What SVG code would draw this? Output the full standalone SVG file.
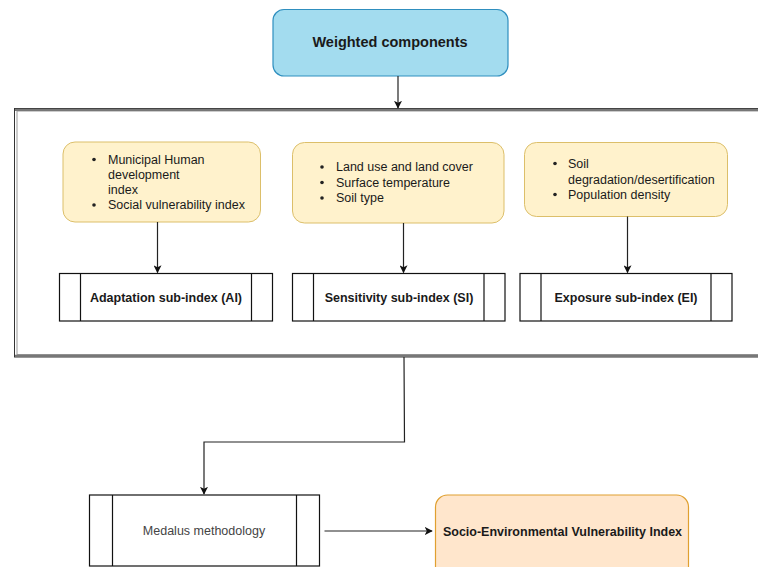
<svg xmlns="http://www.w3.org/2000/svg" width="758" height="567" viewBox="0 0 758 567">
<defs>
<style>
text{font-family:"Liberation Sans",Arial,sans-serif;font-size:12.5px;fill:#1a1a1a}
.b{font-weight:bold}
.c{text-anchor:middle}
.note{fill:#fff2cc;stroke:#dcbf6a;stroke-width:1}
.proc{fill:#fff;stroke:#111;stroke-width:1.2}
.edge{fill:none;stroke:#222;stroke-width:1.2}
.dot{fill:#222}
</style>
<marker id="ah" viewBox="0 0 10 10" refX="9" refY="5" markerWidth="8" markerHeight="8" markerUnits="userSpaceOnUse" orient="auto">
<path d="M0,0 L10,5 L0,10 L2.5,5 z" fill="#111"/>
</marker>
</defs>
<rect width="758" height="567" fill="#fff"/>

<g id="frame">
<rect x="14.5" y="108.5" width="760" height="248.5" fill="#fff" stroke="#333" stroke-width="1"/>
<rect x="17" y="111" width="760" height="243.5" fill="none" stroke="#999" stroke-width="1"/>
<line x1="15" y1="109.8" x2="758" y2="109.8" stroke="#777" stroke-width="2.2"/>
<line x1="15" y1="355.8" x2="758" y2="355.8" stroke="#777" stroke-width="2.2"/>
</g>

<g id="weighted">
<rect x="273" y="9.5" width="235" height="66.5" rx="11" fill="#a3dcef" stroke="#2f8fbf" stroke-width="1.2"/>
<text class="b c" x="390" y="47" style="font-size:14.5px">Weighted components</text>
</g>

<g id="note-adaptation">
<rect class="note" x="63" y="142" width="197.5" height="80" rx="12"/>
<circle class="dot" cx="94" cy="159.5" r="1.8"/>
<circle class="dot" cx="94" cy="205" r="1.8"/>
<text x="108" y="163.5">Municipal Human</text>
<text x="108" y="178.5">development</text>
<text x="108" y="193.5">index</text>
<text x="108" y="209">Social vulnerability index</text>
</g>

<g id="note-sensitivity">
<rect class="note" x="292.5" y="142.5" width="211.5" height="80.5" rx="12"/>
<circle class="dot" cx="322" cy="167" r="1.8"/>
<circle class="dot" cx="322" cy="182.5" r="1.8"/>
<circle class="dot" cx="322" cy="198" r="1.8"/>
<text x="336" y="171">Land use and land cover</text>
<text x="336" y="186.5">Surface temperature</text>
<text x="336" y="202">Soil type</text>
</g>

<g id="note-exposure">
<rect class="note" x="524.5" y="142.5" width="203" height="74" rx="12"/>
<circle class="dot" cx="555" cy="163.5" r="1.8"/>
<circle class="dot" cx="555" cy="194.5" r="1.8"/>
<text x="568" y="167.5">Soil</text>
<text x="568" y="183.5">degradation/desertification</text>
<text x="568" y="198.5">Population density</text>
</g>

<g id="adaptation">
<rect class="proc" x="59.5" y="273.5" width="213" height="47.5"/>
<line class="proc" x1="80.5" y1="273.5" x2="80.5" y2="321"/>
<line class="proc" x1="251.5" y1="273.5" x2="251.5" y2="321"/>
<text class="b c" x="166" y="301.5">Adaptation sub-index (AI)</text>
</g>

<g id="sensitivity">
<rect class="proc" x="292.5" y="273.5" width="212.5" height="47.5"/>
<line class="proc" x1="313.5" y1="273.5" x2="313.5" y2="321"/>
<line class="proc" x1="484" y1="273.5" x2="484" y2="321"/>
<text class="b c" x="399" y="301.5">Sensitivity sub-index (SI)</text>
</g>

<g id="exposure">
<rect class="proc" x="520" y="273.5" width="212" height="47.5"/>
<line class="proc" x1="541" y1="273.5" x2="541" y2="321"/>
<line class="proc" x1="711" y1="273.5" x2="711" y2="321"/>
<text class="b c" x="626" y="301.5">Exposure sub-index (EI)</text>
</g>

<g id="medalus">
<rect class="proc" x="89.5" y="495" width="230" height="71"/>
<line class="proc" x1="112.5" y1="495" x2="112.5" y2="566"/>
<line class="proc" x1="296.5" y1="495" x2="296.5" y2="566"/>
<text class="c" x="204" y="535" style="fill:#444">Medalus methodology</text>
</g>

<g id="sevi">
<rect x="435.5" y="495" width="253" height="90" rx="12" fill="#ffe6cc" stroke="#e0a030" stroke-width="1.2"/>
<text class="b c" x="562.5" y="535.5">Socio-Environmental Vulnerability Index</text>
</g>

<g id="connectors">
<line class="edge" x1="398" y1="76" x2="398" y2="108" marker-end="url(#ah)"/>
<line class="edge" x1="157.5" y1="222" x2="157.5" y2="272.5" marker-end="url(#ah)"/>
<line class="edge" x1="403.5" y1="223" x2="403.5" y2="272.5" marker-end="url(#ah)"/>
<line class="edge" x1="627.5" y1="216.5" x2="627.5" y2="272.5" marker-end="url(#ah)"/>
<polyline class="edge" points="404,357 404.5,442 204,442 204,494" marker-end="url(#ah)"/>
<line class="edge" x1="324.5" y1="531" x2="432" y2="531" marker-end="url(#ah)"/>
</g>
</svg>
